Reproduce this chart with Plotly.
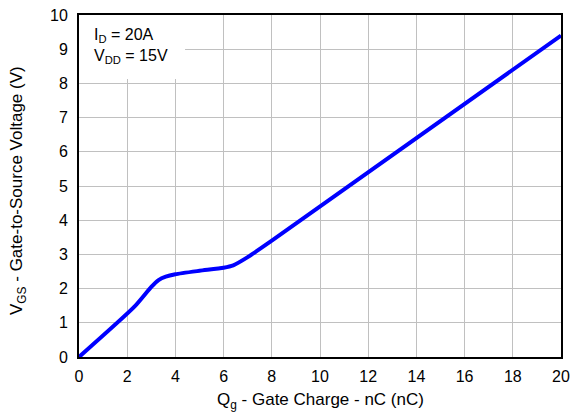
import plotly.graph_objects as go

# Gate charge (nC) and gate-to-source voltage (V)
qg = [0, 2.3, 3.0, 3.3, 3.6, 4.0, 5.0, 6.0, 6.4, 7.0, 8.0, 20]
vgs = [0, 1.47, 2.05, 2.25, 2.35, 2.42, 2.52, 2.61, 2.68, 2.92, 3.4, 9.4]

x_ticks = [0, 2, 4, 6, 8, 10, 12, 14, 16, 18, 20]
y_ticks = [0, 1, 2, 3, 4, 5, 6, 7, 8, 9, 10]

FONT = "Liberation Sans, Arial, sans-serif"
FS = 16
FT = 17

fig = go.Figure()
fig.add_trace(go.Scatter(
    x=qg, y=vgs, mode="lines",
    line=dict(color="#0000FF", width=4, shape="spline", smoothing=0.6),
    showlegend=False, hoverinfo="skip",
))

# white box behind the condition text (covers grid)
fig.add_shape(type="rect", xref="x", yref="y", x0=0, x1=4.4, y0=8.13, y1=10,
              fillcolor="white", line=dict(width=0), layer="between")

fig.add_annotation(
    x=0, y=10, xref="x", yref="y", xanchor="left", yanchor="top",
    xshift=13, yshift=-9, showarrow=False, align="left",
    text="I<sub>D</sub> = 20A<br>V<sub>DD</sub> = 15V",
    font=dict(family=FONT, size=FS, color="black"),
)

# axis titles
fig.add_annotation(
    x=0.5, y=0, xref="paper", yref="paper", xanchor="center", yanchor="middle",
    yshift=-44, showarrow=False,
    text="Q<sub>g</sub> - Gate Charge - nC (nC)",
    font=dict(family=FONT, size=FT, color="black"),
)
fig.add_annotation(
    x=0, y=0.5, xref="paper", yref="paper", xanchor="center", yanchor="middle",
    xshift=-61, yshift=-5, showarrow=False, textangle=-90,
    text="V<sub>GS</sub> - Gate-to-Source Voltage (V)",
    font=dict(family=FONT, size=FT, color="black"),
)

axis_common = dict(
    showgrid=True, gridcolor="#c0c0c0", gridwidth=1,
    showline=True, linecolor="black", linewidth=2, mirror=True,
    zeroline=False, automargin=False,
    ticks="outside", tickcolor="rgba(0,0,0,0)",
    tickfont=dict(family=FONT, size=FS, color="black"),
)

fig.update_xaxes(range=[0, 20], tickvals=x_ticks, ticktext=[str(t) for t in x_ticks],
                 ticklen=4, **axis_common)
fig.update_yaxes(range=[0, 10], tickvals=y_ticks, ticktext=[str(t) for t in y_ticks],
                 ticklen=6, **axis_common)

fig.update_layout(
    width=575, height=414,
    margin=dict(l=79, r=14, t=15, b=57),
    plot_bgcolor="white", paper_bgcolor="white",
    font=dict(family=FONT, size=FS, color="black"),
)

fig.write_html("out.html", config={"displayModeBar": False},
               post_script="document.body.style.margin='0';document.body.style.overflow='hidden';")
